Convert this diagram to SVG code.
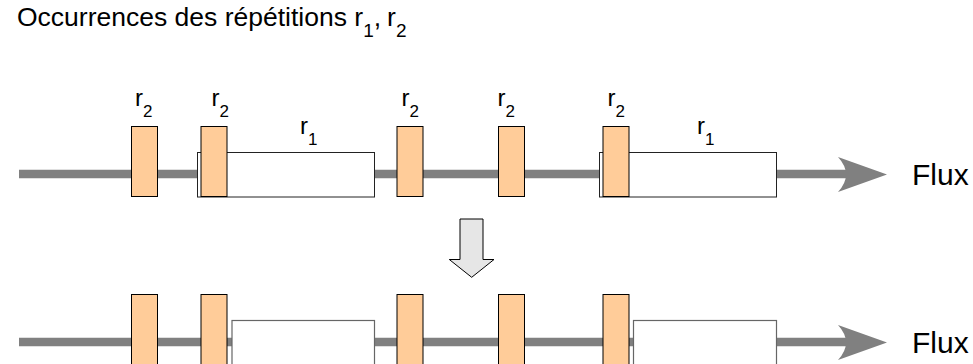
<svg xmlns="http://www.w3.org/2000/svg" width="973" height="364" viewBox="0 0 973 364">
<style>
  text { font-family: "Liberation Sans", Arial, sans-serif; fill: #000; }
  .lbl { font-size: 24px; }
  .sub { font-size: 17px; }
  .tsub { font-size: 19px; }
  .flux { font-size: 30px; }
  .title { font-size: 26.5px; }
  .r2 { fill: #FFCC99; stroke: #000; stroke-width: 1; }
  .r1 { fill: #FFFFFF; stroke: #222; stroke-width: 1; }
  .r1b { fill: #FFFFFF; stroke: #666; stroke-width: 1.2; }
  .flow { stroke: #808080; stroke-width: 8.5; fill: none; }
  .head { fill: #808080; stroke: none; }
</style>
<defs>
  <path id="arrowhead" class="head" d="M838,157 L887,174.5 L838,192 Q854,174.5 838,157 Z"/>
</defs>

<g id="title">
  <text class="title" x="17" y="26">Occurrences des répétitions r<tspan class="tsub" dy="11">1</tspan><tspan dy="-11">,</tspan><tspan dx="6">r</tspan><tspan class="tsub" dy="11">2</tspan></text>
</g>

<g id="connectors">
  <line class="flow" x1="19" y1="174" x2="846" y2="174"/>
  <use href="#arrowhead"/>
  <line class="flow" x1="19" y1="342" x2="846" y2="342"/>
  <use href="#arrowhead" transform="translate(0,168)"/>
  <polygon id="transform-arrow" points="460,219 483,219 483,259.5 494,259.5 471.7,277.3 449.3,259.5 460,259.5" fill="#E6E6E6" stroke="#000" stroke-width="1"/>
</g>

<g id="top-row">
  <g id="top-r1-a"><rect class="r1" x="197.5" y="152.5" width="177" height="44.5"/><text class="lbl" x="300" y="134">r<tspan class="sub" dy="11">1</tspan></text></g>
  <g id="top-r1-b"><rect class="r1" x="599.5" y="152.5" width="177" height="44.5"/><text class="lbl" x="697" y="134">r<tspan class="sub" dy="11">1</tspan></text></g>
  <g id="top-r2-1"><rect class="r2" x="131.5" y="126.5" width="26" height="70"/><text class="lbl" x="135" y="106">r<tspan class="sub" dy="11">2</tspan></text></g>
  <g id="top-r2-2"><rect class="r2" x="201" y="126.5" width="26" height="70"/><text class="lbl" x="211.5" y="106">r<tspan class="sub" dy="11">2</tspan></text></g>
  <g id="top-r2-3"><rect class="r2" x="397" y="126.5" width="26" height="70"/><text class="lbl" x="401.5" y="106">r<tspan class="sub" dy="11">2</tspan></text></g>
  <g id="top-r2-4"><rect class="r2" x="498.5" y="126.5" width="26" height="70"/><text class="lbl" x="497.5" y="106">r<tspan class="sub" dy="11">2</tspan></text></g>
  <g id="top-r2-5"><rect class="r2" x="603" y="126.5" width="26" height="70"/><text class="lbl" x="607.5" y="106">r<tspan class="sub" dy="11">2</tspan></text></g>
  <g id="top-flux"><text class="flux" x="912" y="185">Flux</text></g>
</g>

<g id="bottom-row">
  <g id="bot-r1-a"><rect class="r1b" x="232" y="320.5" width="142.5" height="50"/></g>
  <g id="bot-r1-b"><rect class="r1b" x="633.5" y="320.5" width="143" height="50"/></g>
  <g id="bot-r2-1"><rect class="r2" x="131.5" y="294.5" width="26" height="75"/></g>
  <g id="bot-r2-2"><rect class="r2" x="201" y="294.5" width="26" height="75"/></g>
  <g id="bot-r2-3"><rect class="r2" x="397" y="294.5" width="26" height="75"/></g>
  <g id="bot-r2-4"><rect class="r2" x="498.5" y="294.5" width="26" height="75"/></g>
  <g id="bot-r2-5"><rect class="r2" x="603" y="294.5" width="26" height="75"/></g>
  <g id="bot-flux"><text class="flux" x="912" y="353">Flux</text></g>
</g>
</svg>
